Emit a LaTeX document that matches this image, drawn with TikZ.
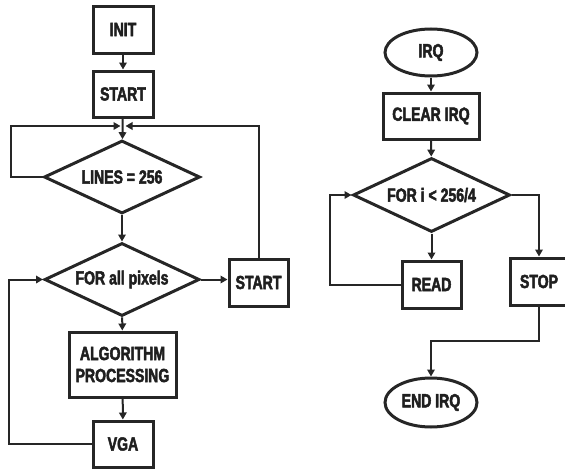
\documentclass[tikz,border=0pt]{standalone}
\usepackage{fontspec}
\setmainfont{Liberation Sans}[FakeStretch=0.74,BoldFeatures={FakeBold=2.5}]
\usetikzlibrary{shapes.geometric,arrows.meta}
\begin{document}
\begin{tikzpicture}[x=1pt,y=-1pt,
  txt/.style={text=black!88, font=\bfseries\fontsize{19}{22}\selectfont, align=center, inner sep=0pt},
  box/.style={txt, draw=black!85, line width=3pt, rectangle},
  dia/.style={txt, draw=black!85, line width=3pt, diamond, aspect=2.1},
  oval/.style={txt, draw=black!85, line width=3pt, ellipse},
  conn/.style={draw=black!85, line width=2pt},
  arr/.style={conn, -{Triangle[length=7pt,width=7.5pt]}}]
\useasboundingbox (0,0) rectangle (565,471);
% left flow
\node[box, minimum width=60, minimum height=47] (init) at (123,29.5) {INIT};
\node[box, minimum width=60, minimum height=46] (start) at (123,94) {START};
\node[dia, minimum width=156, minimum height=73] (lines) at (122,177) {LINES = 256};
\node[dia, minimum width=155, minimum height=73] (forall) at (122,279.5) {FOR all pixels};
\node[box, minimum width=59, minimum height=47] (start2) at (258.5,282.5) {START};
\node[box, minimum width=107, minimum height=65] (algo) at (122.5,364.5) {ALGORITHM\\PROCESSING};
\node[box, minimum width=60, minimum height=46] (vga) at (123,444) {VGA};
\coordinate (ml) at (120.5,126);
\coordinate (mr) at (125.5,126);
\draw[arr] (init) -- (start);
\draw[arr] (start) -- (lines);
\draw[arr] (lines.west) -- ++(-32,0) |- (ml);
\draw[arr] (start2.north) |- (mr);
\draw[arr] (lines) -- (forall);
\draw[arr] (forall.east) -- (forall.east -| start2.west);
\draw[arr] (forall) -- (algo);
\draw[arr] (algo) -- (vga);
\draw[arr] (vga.west) -- ++(-83,0) |- (forall.west);
% right flow
\node[oval, minimum width=92, minimum height=47] (irq) at (431,52.5) {IRQ};
\node[box, minimum width=96, minimum height=46] (clear) at (431,116) {CLEAR IRQ};
\node[dia, minimum width=157, minimum height=74] (fori) at (431.5,195) {FOR i < 256/4};
\node[box, minimum width=59, minimum height=47] (read) at (431.5,284.5) {READ};
\node[box, minimum width=58, minimum height=47] (stop) at (539,281.5) {STOP};
\node[oval, minimum width=92, minimum height=49] (endirq) at (431,402.5) {END IRQ};
\draw[arr] (irq) -- (clear);
\draw[arr] (clear) -- (fori);
\draw[arr] (fori) -- (read);
\draw[arr] (read.west) -- ++(-70.5,0) |- (fori.west);
\draw[arr] (fori.east) -| (stop.north);
\draw[arr] (stop.south) -- ++(0,34) -| (endirq.north);
\end{tikzpicture}
\end{document}
